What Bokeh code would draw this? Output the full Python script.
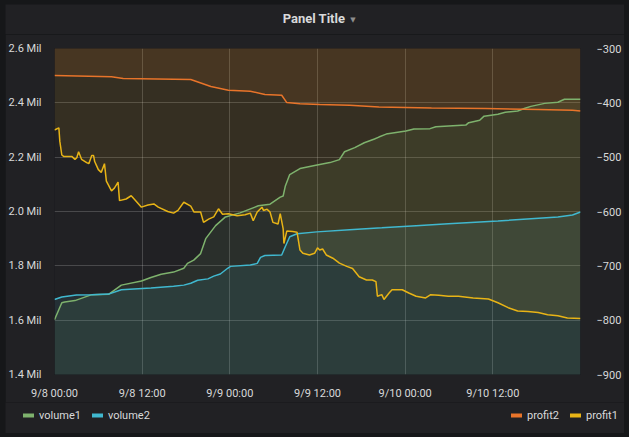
import datetime as dt
from bokeh.plotting import figure
from bokeh.layouts import column
from bokeh.models import (Range1d, LinearAxis, FixedTicker, CustomJSTickFormatter,
                          Legend, LegendItem, Label)
from bokeh.embed import file_html
from bokeh.resources import INLINE

# ---------------- data (hours since 9/8 00:00) ----------------
START = dt.datetime(2018, 9, 8, 0, 0)
END_HOURS = 72

x_tick_hours = [0, 12, 24, 36, 48, 60]
x_tick_labels = ["9/8 00:00", "9/8 12:00", "9/9 00:00", "9/9 12:00", "9/10 00:00", "9/10 12:00"]
left_ticks = [1.4, 1.6, 1.8, 2.0, 2.2, 2.4, 2.6]
right_ticks = [-900, -800, -700, -600, -500, -400, -300]

# volume1 (Mil)
vol1_h = [0.0, 1.0, 1.4, 2.8, 5.1, 7.4, 9.15, 11.9, 13.2, 14.6, 16.3, 17.7, 18.2, 19.06, 20.0,
          20.7, 22.05, 23.4, 25.4, 27.9, 29.5, 30.9, 31.3, 31.6, 32.2, 33.6, 35.6, 37.7, 39.0,
          39.7, 41.1, 42.4, 43.8, 44.4, 45.4, 48.1, 49.2, 51.4, 52.2, 56.3, 56.7, 58.2, 58.8,
          60.7, 61.7, 63.4, 64.4, 65.2, 67.1, 68.9, 69.8, 72.0]
vol1_v = [1.602, 1.664, 1.667, 1.672, 1.694, 1.695, 1.729, 1.744, 1.757, 1.769, 1.777, 1.791,
          1.809, 1.821, 1.845, 1.900, 1.948, 1.980, 1.995, 2.021, 2.027, 2.053, 2.057, 2.094,
          2.136, 2.158, 2.169, 2.180, 2.191, 2.220, 2.235, 2.253, 2.267, 2.274, 2.285, 2.296,
          2.304, 2.305, 2.312, 2.318, 2.327, 2.336, 2.351, 2.358, 2.365, 2.370, 2.380, 2.387,
          2.398, 2.402, 2.413, 2.413]

# volume2 (Mil)
vol2_h = [0.0, 1.0, 3.0, 5.1, 7.4, 9.15, 13.2, 16.3, 17.7, 18.65, 19.6, 21.0, 21.8, 22.7, 23.7,
          24.1, 26.8, 27.75, 28.2, 28.8, 31.1, 31.6, 32.2, 33.2, 35.9, 40.4, 44.8, 49.5, 53.9,
          60.7, 68.9, 70.9, 72.0]
vol2_v = [1.676, 1.685, 1.693, 1.694, 1.696, 1.712, 1.718, 1.725, 1.729, 1.736, 1.747, 1.752,
          1.762, 1.770, 1.791, 1.798, 1.803, 1.809, 1.831, 1.838, 1.840, 1.871, 1.907, 1.918,
          1.925, 1.933, 1.940, 1.948, 1.955, 1.965, 1.980, 1.987, 1.998]

# profit2
prof2_h = [0.0, 7.8, 9.4, 18.65, 21.4, 23.8, 26.8, 28.8, 31.1, 31.8, 33.6, 36.3, 40.4, 44.4,
           51.6, 59.0, 66.2, 70.9, 72.0]
prof2_v = [-349.5, -352, -355, -357, -370, -377, -378.5, -384.5, -386, -399.6, -401.5, -403,
           -404.5, -407.6, -409.5, -410.5, -412.4, -413.6, -415]

# profit1
prof1_h = [0.0, 0.6, 0.73, 1.0, 1.3, 2.4, 2.8, 3.05, 3.3, 3.7, 4.4, 4.7, 5.1, 5.35, 5.5, 5.8,
           6.0, 6.4, 6.84, 7.1, 7.8, 8.2, 8.7, 8.9, 9.8, 10.5, 10.9, 11.9, 12.8, 13.6, 14.2,
           15.5, 16.3, 16.9, 17.7, 18.65, 19.1, 20.0, 20.4, 21.1, 21.8, 22.45, 23.0, 23.8,
           25.0, 26.1, 26.8, 27.2, 27.75, 28.4, 28.6, 29.1, 29.5, 29.9, 30.6, 30.9, 31.3,
           31.4, 31.8, 32.6, 33.2, 33.6, 34.0, 34.9, 35.6, 36.0, 36.3, 36.7, 37.2, 38.1,
           39.0, 40.0, 40.8, 41.7, 42.7, 43.5, 44.0, 44.2, 44.8, 45.1, 45.8, 46.2, 47.6,
           48.5, 49.5, 50.8, 51.5, 52.6, 53.9, 55.3, 57.3, 59.4, 60.7, 62.1, 63.4, 64.8,
           66.2, 67.5, 68.9, 70.2, 72.0]
prof1_v = [-450, -446, -471, -496, -499, -499, -504, -501, -490, -504, -510, -512, -497, -497,
           -508, -517, -523, -528, -512, -544, -562, -557, -546, -580, -577, -571, -577, -592,
           -588, -586, -592, -600, -603, -598, -583, -590, -601, -601, -620, -614, -610, -595,
           -605, -604, -608, -606, -603, -617, -601, -592, -598, -596, -601, -620, -623, -604,
           -632, -659, -636, -637, -638, -671, -677, -680, -677, -667, -671, -669, -680, -686,
           -695, -701, -705, -720, -726, -726, -729, -756, -753, -762, -750, -744, -744, -750,
           -756, -759, -753, -754, -756, -756, -759, -761, -768, -777, -783, -784, -786, -790,
           -792, -796, -797]

series_names = ["volume1", "volume2", "profit2", "profit1"]
series_colors = ["#7EB26D", "#40B8CF", "#E8742A", "#E8B416"]
title_text = "Panel Title"

# ---------------- helpers ----------------
EPOCH = dt.datetime(1970, 1, 1)
START_MS = (START - EPOCH).total_seconds() * 1000.0
HOUR_MS = 3600 * 1000.0


def to_ms(hours):
    return [START_MS + h * HOUR_MS for h in hours]


BG = "#212124"
TXT = "#d8d9da"
FONT = "Roboto"
W = 619


def blank_fig(height):
    f = figure(width=W, height=height, output_backend="svg", toolbar_location=None,
               x_range=Range1d(0, W), y_range=Range1d(0, height),
               min_border=0, min_border_left=0, min_border_right=0,
               min_border_top=0, min_border_bottom=0,
               background_fill_color=BG, border_fill_color=BG,
               outline_line_color=None, x_axis_location=None, y_axis_location=None)
    f.grid.visible = False
    f.frame_align = False
    return f


# ---------------- title strip ----------------
top = blank_fig(30)
top.add_layout(Label(x=308.5, y=16, x_units="screen", y_units="screen", text=title_text,
                     text_align="center", text_baseline="middle", text_font=FONT,
                     text_font_size="13px", text_font_style="bold", text_color=TXT))
top.add_layout(Label(x=347.5, y=15, x_units="screen", y_units="screen", text="\u25BC",
                     text_align="center", text_baseline="middle", text_font="DejaVu Sans",
                     text_font_size="7px", text_color="#8e8e8e"))

# ---------------- main plot ----------------
p = figure(width=W, height=368, x_axis_type="datetime",
           output_backend="svg", toolbar_location=None,
           x_range=Range1d(START_MS, START_MS + END_HOURS * HOUR_MS),
           y_range=Range1d(1.4, 2.6),
           min_border_left=48, min_border_right=41, min_border_top=14, min_border_bottom=24,
           background_fill_color=BG, border_fill_color=BG, outline_line_color=None)
p.frame_align = False
p.extra_y_ranges = {"right": Range1d(-900, -300)}

fill_alpha = 0.1
p.varea(x=to_ms(vol1_h), y1=0, y2=vol1_v, fill_color=series_colors[0], fill_alpha=fill_alpha)
p.varea(x=to_ms(vol2_h), y1=0, y2=vol2_v, fill_color=series_colors[1], fill_alpha=fill_alpha)
p.varea(x=to_ms(prof2_h), y1=prof2_v, y2=0, fill_color=series_colors[2], fill_alpha=fill_alpha,
        y_range_name="right")
p.varea(x=to_ms(prof1_h), y1=prof1_v, y2=0, fill_color=series_colors[3], fill_alpha=fill_alpha,
        y_range_name="right")

lw = 1.5
p.line(to_ms(vol1_h), vol1_v, line_color=series_colors[0], line_width=lw)
p.line(to_ms(vol2_h), vol2_v, line_color=series_colors[1], line_width=lw)
p.line(to_ms(prof2_h), prof2_v, line_color=series_colors[2], line_width=lw, y_range_name="right")
p.line(to_ms(prof1_h), prof1_v, line_color=series_colors[3], line_width=lw, y_range_name="right")

xaxis = p.xaxis[0]
xaxis.ticker = FixedTicker(ticks=to_ms(x_tick_hours))
xaxis.major_label_overrides = {ms: lab for ms, lab in zip(to_ms(x_tick_hours), x_tick_labels)}
yaxis = p.yaxis[0]
yaxis.ticker = FixedTicker(ticks=left_ticks)
yaxis.formatter = CustomJSTickFormatter(code="return tick.toFixed(1) + ' Mil';")

raxis = LinearAxis(y_range_name="right", ticker=FixedTicker(ticks=right_ticks))
p.add_layout(raxis, "right")

for ax in (xaxis, yaxis, raxis):
    ax.axis_line_color = None
    ax.major_tick_line_color = None
    ax.minor_tick_line_color = None
    ax.major_label_text_color = TXT
    ax.major_label_text_font = FONT
    ax.major_label_text_font_size = "11px"
xaxis.major_label_standoff = 6
yaxis.major_label_standoff = 7
raxis.major_label_standoff = 10

p.xgrid.ticker = FixedTicker(ticks=to_ms(x_tick_hours))
p.ygrid.ticker = FixedTicker(ticks=left_ticks)
for g in (p.xgrid, p.ygrid):
    g.grid_line_color = "#ffffff"
    g.grid_line_alpha = 0.18
    g.grid_line_width = 1

# ---------------- legend strip ----------------
leg = blank_fig(31)
# legend-only renderers, placed outside the visible range of the strip
leg_r = [leg.line(x=[-50, -40], y=[-50, -50], line_color=c, line_width=4, line_cap="round")
         for c in series_colors]


def make_legend(idx, loc):
    return Legend(items=[LegendItem(label=series_names[i], renderers=[leg_r[i]]) for i in idx],
                  location=loc, orientation="horizontal", glyph_width=11, glyph_height=14,
                  label_standoff=5, spacing=11, padding=0, margin=0,
                  background_fill_alpha=0, border_line_color=None,
                  label_text_font=FONT, label_text_font_size="11px", label_text_color=TXT,
                  label_height=14)


leg.add_layout(make_legend([0, 1], (18, 11)))
leg.add_layout(make_legend([2, 3], (506, 11)))

layout = column(top, p, leg, spacing=0)

html = file_html(layout, INLINE)
css = ("<style>html,body{margin:0;background:#161719;}"
       "body{padding:4px 0 0 5px;}</style></head>")
html = html.replace("</head>", css, 1)
open("out.html", "w").write(html)
